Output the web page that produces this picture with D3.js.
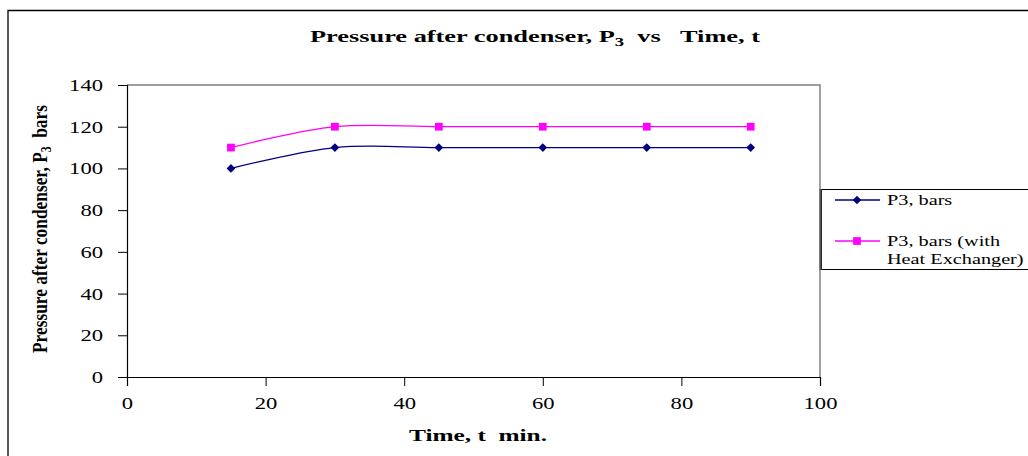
<!DOCTYPE html>
<html>
<head>
<meta charset="utf-8">
<script src="https://cdn.jsdelivr.net/npm/d3@7"></script>
<style>
  body { margin: 0; background: #fff; }
  text { font-family: "Liberation Serif", "Times New Roman", serif; }
</style>
</head>
<body>
<svg id="chart" width="1028" height="456"></svg>
<script>
// data
var times = [15, 30, 45, 60, 75, 90];
var p3 = [100, 110, 110, 110, 110, 110];
var p3Hx = [110, 120, 120, 120, 120, 120];
var xTicks = [0, 20, 40, 60, 80, 100];
var yTicks = [0, 20, 40, 60, 80, 100, 120, 140];

var svg = d3.select("#chart");

// the original text is drawn wide, so stretch it sideways a bit
function widen(sel, k) {
  sel.each(function () {
    var w = this.getComputedTextLength();
    d3.select(this).attr("textLength", w * k).attr("lengthAdjust", "spacingAndGlyphs");
  });
}

// outer chart frame (runs off right/bottom)
svg.append("path")
  .attr("d", "M8,456 L8,10.5 L1028,10.5")
  .attr("fill", "none").attr("stroke", "#000").attr("stroke-width", 1.3);

var x = d3.scaleLinear().domain([0, 100]).range([127, 820]);
var y = d3.scaleLinear().domain([0, 140]).range([377, 85]);

// plot area border (top, right)
svg.append("path")
  .attr("d", "M127," + y(140) + " L" + x(100) + "," + y(140) + " L" + x(100) + "," + y(0))
  .attr("fill", "none").attr("stroke", "#808080").attr("stroke-width", 1.5);

var xAxis = svg.append("g").attr("transform", "translate(0," + y(0) + ")")
  .call(d3.axisBottom(x).tickValues(xTicks).tickSize(9).tickPadding(9));
var yAxis = svg.append("g").attr("transform", "translate(" + x(0) + ",0)")
  .call(d3.axisLeft(y).tickValues(yTicks).tickSize(9).tickPadding(15));

[xAxis, yAxis].forEach(function (a) {
  a.select(".domain").attr("stroke", "#000").attr("stroke-width", 1.2);
  a.selectAll(".tick line").attr("stroke", "#000");
  a.selectAll(".tick text")
    .attr("fill", "#000")
    .style("font-family", "Liberation Serif, serif")
    .style("font-size", "17px");
  widen(a.selectAll(".tick text"), 1.33);
});
xAxis.selectAll(".tick text").attr("dy", "0.85em");

// titles
svg.append("text")
  .attr("x", 535).attr("y", 42)
  .attr("text-anchor", "middle")
  .attr("xml:space", "preserve")
  .attr("textLength", 450).attr("lengthAdjust", "spacingAndGlyphs")
  .style("font-size", "17px").style("font-weight", "bold")
  .html('Pressure after condenser, P<tspan dy="4" font-size="12">3</tspan><tspan dy="-4">  vs   Time, t</tspan>');

svg.append("text")
  .attr("x", 478).attr("y", 441)
  .attr("text-anchor", "middle")
  .attr("xml:space", "preserve")
  .attr("textLength", 138).attr("lengthAdjust", "spacingAndGlyphs")
  .style("font-size", "17px").style("font-weight", "bold")
  .text("Time, t  min.");

svg.append("text")
  .attr("transform", "translate(47,229) rotate(-90)")
  .attr("text-anchor", "middle")
  .attr("xml:space", "preserve")
  .attr("textLength", 248).attr("lengthAdjust", "spacingAndGlyphs")
  .style("font-size", "21px").style("font-weight", "bold")
  .html('Pressure after condenser, P<tspan dy="4" font-size="14">3</tspan><tspan dy="-4">  bars</tspan>');

// series
var series = [
  { name: "P3, bars", values: p3, color: "#000080", shape: d3.symbolDiamond2, size: 48 },
  { name: "P3, bars (with|Heat Exchanger)", values: p3Hx, color: "#FF00FF", shape: d3.symbolSquare, size: 60 }
];

var line = d3.line()
  .x(function (d) { return x(d[0]); })
  .y(function (d) { return y(d[1]); })
  .curve(d3.curveCatmullRom.alpha(0));

series.forEach(function (s) {
  var pts = times.map(function (t, i) { return [t, s.values[i]]; });
  svg.append("path").datum(pts)
    .attr("d", line).attr("fill", "none")
    .attr("stroke", s.color).attr("stroke-width", 1.3);
  svg.selectAll(null).data(pts).enter().append("path")
    .attr("transform", function (d) { return "translate(" + x(d[0]) + "," + y(d[1]) + ")"; })
    .attr("d", d3.symbol().type(s.shape).size(s.size))
    .attr("fill", s.color);
});

// legend
var lg = svg.append("g");
lg.append("rect")
  .attr("x", 821.5).attr("y", 189.5).attr("width", 230).attr("height", 80)
  .attr("fill", "#fff").attr("stroke", "#000").attr("stroke-width", 1);
lg.append("line").attr("x1", 820.5).attr("x2", 820.5).attr("y1", 189).attr("y2", 270)
  .attr("stroke", "#555").attr("stroke-width", 2);

var legendY = [200, 241];
series.forEach(function (s, i) {
  var ly = legendY[i];
  lg.append("line").attr("x1", 835).attr("x2", 880).attr("y1", ly).attr("y2", ly)
    .attr("stroke", s.color).attr("stroke-width", 1.3);
  lg.append("path").attr("transform", "translate(857," + ly + ")")
    .attr("d", d3.symbol().type(s.shape).size(s.size)).attr("fill", s.color);
  s.name.split("|").forEach(function (t, j) {
    var tx = lg.append("text").attr("x", 887).attr("y", ly + 5 + j * 18)
      .style("font-size", "15px")
      .text(t);
    widen(tx, 1.35);
  });
});
</script>
</body>
</html>
